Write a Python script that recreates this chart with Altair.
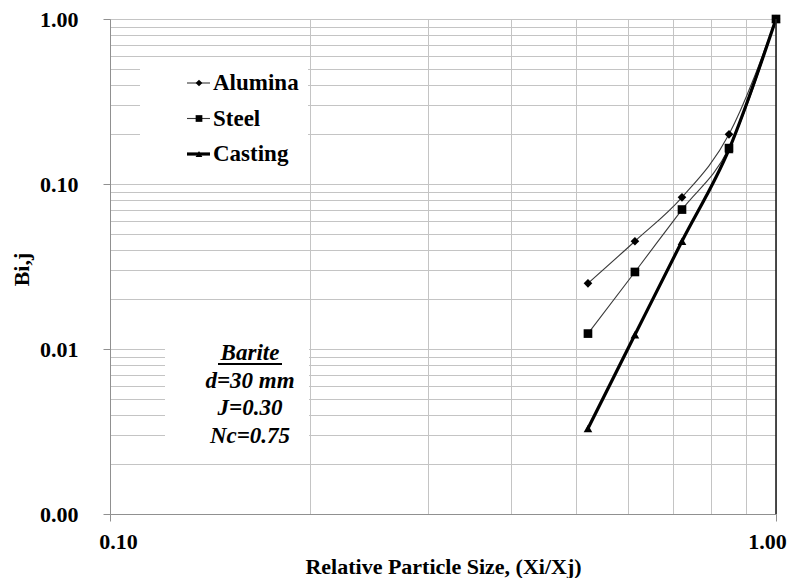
import altair as alt
import pandas as pd

# ---- data ----
x_ratio = [0.522, 0.614, 0.7225, 0.85, 1.0]
alumina = [0.025, 0.045, 0.083, 0.20, 1.0]
steel = [0.0124, 0.0293, 0.070, 0.165, 1.0]
casting = [0.0033, 0.0122, 0.045, 0.162, 1.0]
series_names = ["Alumina", "Steel", "Casting"]

x_grid = [0.1, 0.2, 0.3, 0.4, 0.5, 0.6, 0.7, 0.8, 0.9, 1.0]
y_grid = [0.001, 0.002, 0.003, 0.004, 0.005, 0.006, 0.007, 0.008, 0.009,
          0.01, 0.02, 0.03, 0.04, 0.05, 0.06, 0.07, 0.08, 0.09,
          0.1, 0.2, 0.3, 0.4, 0.5, 0.6, 0.7, 0.8, 0.9, 1.0]
annotation_lines = ["Barite", "d=30 mm", "J=0.30", "Nc=0.75"]

rows = []
for name, vals in zip(series_names, [alumina, steel, casting]):
    for xv, yv in zip(x_ratio, vals):
        rows.append({"series": name, "x": xv, "y": yv})
df = pd.DataFrame(rows)
legend_df = pd.DataFrame({"series": series_names})

W, H = 666, 495
FONT = "Liberation Serif"

xscale = alt.Scale(type="log", domain=[0.1, 1.0], nice=False)
yscale = alt.Scale(type="log", domain=[0.001, 1.0], nice=False)
color_scale = alt.Scale(domain=series_names, range=["#3a3a3a", "#3a3a3a", "#000000"])
shape_scale = alt.Scale(domain=series_names, range=["diamond", "square", "triangle-up"])
stroke_w = alt.condition(alt.datum.series == "Casting", alt.value(3.2), alt.value(1.1))

x_major_test = "datum.value == 0.1 || datum.value == 1"
y_major_test = "datum.value == 0.001 || datum.value == 0.01 || datum.value == 0.1 || datum.value == 1"

x_axis = alt.Axis(
    values=x_grid, grid=True,
    labelExpr=f"({x_major_test}) ? format(datum.value, '.2f') : ''",
    tickColor={"condition": {"test": x_major_test, "value": "#909090"}, "value": "transparent"},
    tickSize=7, labelPadding=10, labelOverlap=False, labelFlush=False,
    labelOffset={"condition": {"test": "datum.value <= 0.1", "value": 8}, "value": -9},
    title="Relative Particle Size, (Xi/Xj)", titleY=52, titleBaseline="middle",
)
y_axis = alt.Axis(
    values=y_grid, grid=True,
    labelExpr=f"({y_major_test}) ? format(datum.value, '.2f') : ''",
    tickColor={"condition": {"test": y_major_test, "value": "#909090"}, "value": "transparent"},
    tickSize=7, labelPadding=25, labelOverlap=False, labelFlush=False,
    title="Bi,j", titleX=-89, titleY=250, titleAlign="center", titleBaseline="middle",
)

base = alt.Chart(df)
lines = base.mark_line(interpolate="monotone").encode(
    x=alt.X("x:Q", scale=xscale, axis=x_axis),
    y=alt.Y("y:Q", scale=yscale, axis=y_axis),
    color=alt.Color("series:N", scale=color_scale, legend=None),
    strokeWidth=stroke_w,
    detail="series:N",
)
points = base.mark_point(filled=True, opacity=1, size=75).encode(
    x=alt.X("x:Q", scale=xscale),
    y=alt.Y("y:Q", scale=yscale),
    shape=alt.Shape("series:N", scale=shape_scale, legend=None),
    color=alt.value("black"),
)

one = alt.Data(values=[{}])
right_border = alt.Chart(one).mark_rule(color="#222", strokeWidth=1.6).encode(
    x=alt.value(W), y=alt.value(0), y2=alt.value(H)
)

# legend box (white panel) and entries
legend_box = alt.Chart(one).mark_rect(fill="white").encode(
    x=alt.value(30), x2=alt.value(198), y=alt.value(38), y2=alt.value(161)
)
legend_y = alt.Y("series:N", scale=alt.Scale(type="point", domain=series_names, range=[64, 135], padding=0), axis=None)
leg_lines = alt.Chart(legend_df).mark_rule().encode(
    x=alt.value(77), x2=alt.value(100), y=legend_y,
    color=alt.Color("series:N", scale=color_scale, legend=None),
    strokeWidth=stroke_w,
)
leg_pts = alt.Chart(legend_df).mark_point(filled=True, opacity=1, size=45).encode(
    x=alt.value(89), y=legend_y,
    shape=alt.Shape("series:N", scale=shape_scale, legend=None),
    color=alt.value("black"),
)
leg_text = alt.Chart(legend_df).mark_text(
    align="left", baseline="middle", font=FONT, fontSize=23, fontWeight="bold", color="black"
).encode(x=alt.value(103), y=legend_y, text="series:N")

# annotation box
ann_box = alt.Chart(one).mark_rect(fill="white").encode(
    x=alt.value(55), x2=alt.value(199), y=alt.value(303), y2=alt.value(444)
)
ann_text = alt.Chart(one).mark_text(
    align="center", baseline="middle", font=FONT, fontSize=23, fontWeight="bold",
    fontStyle="italic", color="black", lineBreak="\n", lineHeight=27.7,
).encode(x=alt.value(140), y=alt.value(334), text=alt.value("\n".join(annotation_lines)))
ann_underline = alt.Chart(one).mark_rule(color="black", strokeWidth=2).encode(
    x=alt.value(108), x2=alt.value(172), y=alt.value(345)
)

main = alt.layer(lines, points, right_border)
legend = alt.layer(legend_box, leg_lines, leg_pts, leg_text)
annot = alt.layer(ann_box, ann_text, ann_underline)

chart = alt.layer(main, legend, annot).resolve_scale(y="independent").properties(
    width=W, height=H,
    autosize=alt.AutoSizeParams(type="none"),
    padding={"left": 102, "top": 11, "right": 14, "bottom": 64},
).configure_view(stroke="#a0a0a0", strokeWidth=1).configure_axis(
    labelFont=FONT, titleFont=FONT, labelFontWeight="bold", titleFontWeight="bold",
    labelFontSize=22, titleFontSize=22, labelColor="black", titleColor="black",
    gridColor="#c4c4c4", gridWidth=1, domainColor="#909090",
)

chart.save("out.html", embed_options={"renderer": "svg", "actions": False})
